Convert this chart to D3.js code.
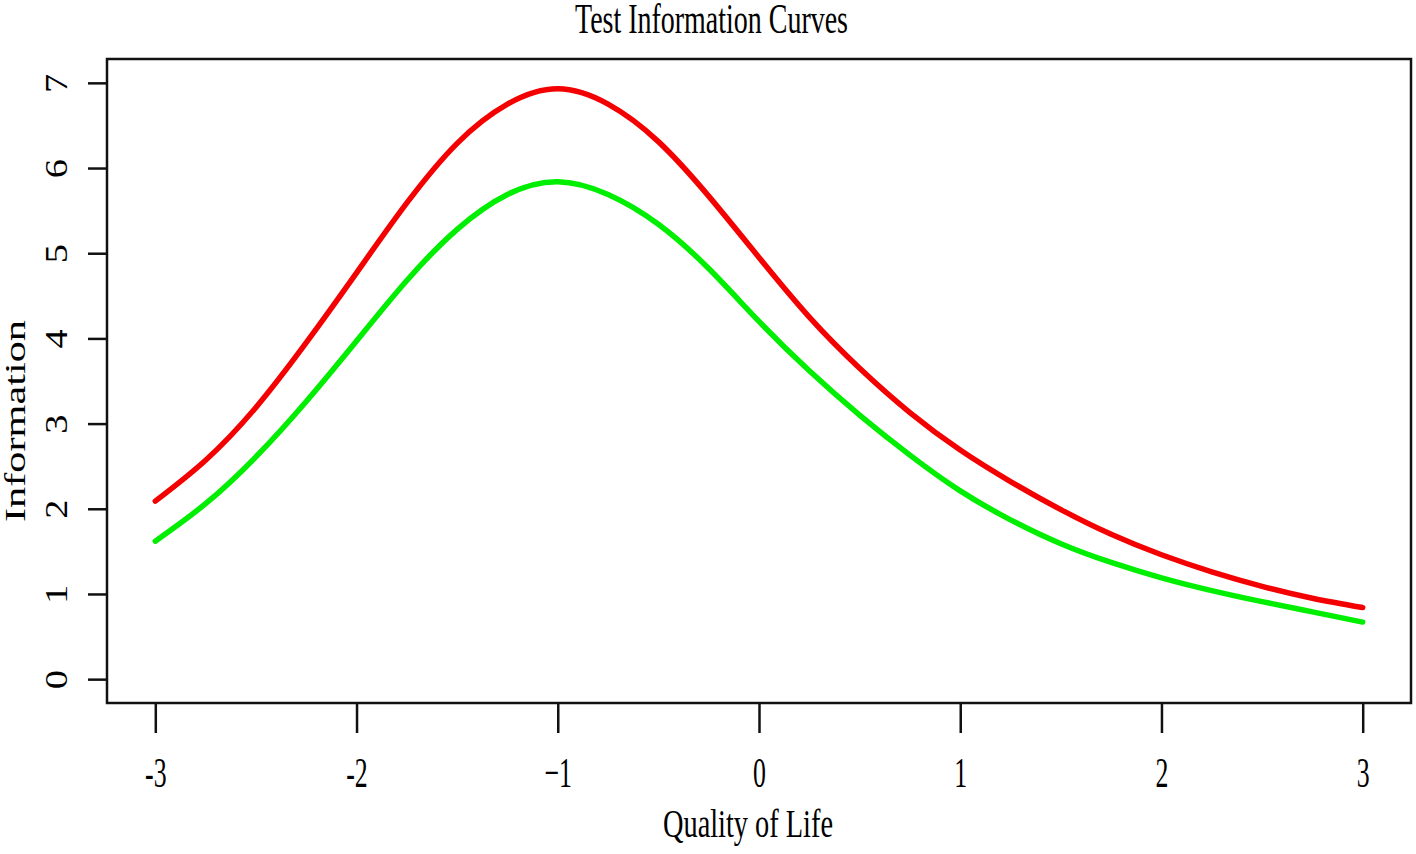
<!DOCTYPE html>
<html>
<head>
<meta charset="utf-8">
<script src="https://cdn.jsdelivr.net/npm/d3@7"></script>
<style>
  html, body { margin: 0; padding: 0; background: #fff; }
  text { font-family: "Liberation Serif", "Times New Roman", serif; fill: #000; }
</style>
</head>
<body>
<svg id="chart"></svg>
<script>
  "use strict";

  /***** Data *****/
  var theta = [-3, -2.75, -2.5, -2.25, -2, -1.75, -1.5, -1.25, -1, -0.75, -0.5, -0.25,
               0, 0.25, 0.5, 0.75, 1, 1.25, 1.5, 1.75, 2, 2.25, 2.5, 2.75, 3];
  var redInfo = [2.09, 2.57, 3.19, 3.95, 4.77, 5.59, 6.29, 6.75, 6.93, 6.75, 6.31, 5.67,
                 4.95, 4.25, 3.65, 3.13, 2.69, 2.32, 1.99, 1.70, 1.46, 1.26, 1.09, 0.95, 0.84];
  var greenInfo = [1.62, 2.06, 2.61, 3.26, 3.97, 4.68, 5.28, 5.69, 5.84, 5.69, 5.34, 4.82,
                   4.20, 3.62, 3.10, 2.63, 2.21, 1.87, 1.59, 1.37, 1.19, 1.04, 0.91, 0.79, 0.67];
  var xTicks = [-3, -2, -1, 0, 1, 2, 3];
  var xTickLabels = ["-3", "-2", "\u22121", "0", "1", "2", "3"];
  var yTicks = [0, 1, 2, 3, 4, 5, 6, 7];

  /***** Configuration *****/
  var W = 1416, H = 854;
  var box = {left: 107, right: 1411, top: 59, bottom: 703};

  var svg = d3.select("#chart").attr("width", W).attr("height", H);
  svg.append("rect").attr("width", W).attr("height", H).attr("fill", "#fff");

  /***** Scales (R style 4% padding) *****/
  var x = d3.scaleLinear().domain([-3.24, 3.24]).range([box.left, box.right]);
  var y = d3.scaleLinear().domain([-0.28, 7.28]).range([box.bottom, box.top]);

  /***** Curves *****/
  var line = d3.line()
    .x(function (d) { return x(d[0]); })
    .y(function (d) { return y(d[1]); })
    .curve(d3.curveNatural);

  svg.append("path")
    .datum(theta.map(function (t, i) { return [t, redInfo[i]]; }))
    .attr("d", line).attr("fill", "none")
    .attr("stroke", "#f40000").attr("stroke-width", 5.5).attr("stroke-linecap", "round");

  svg.append("path")
    .datum(theta.map(function (t, i) { return [t, greenInfo[i]]; }))
    .attr("d", line).attr("fill", "none")
    .attr("stroke", "#00ee00").attr("stroke-width", 5.5).attr("stroke-linecap", "round");

  /***** Frame *****/
  svg.append("rect")
    .attr("x", box.left).attr("y", box.top)
    .attr("width", box.right - box.left).attr("height", box.bottom - box.top)
    .attr("fill", "none").attr("stroke", "#111").attr("stroke-width", 2.5);

  /***** Axes *****/
  var xAxis = d3.axisBottom(x).tickValues(xTicks).tickSize(30)
    .tickFormat(function (d, i) { return xTickLabels[i]; });
  var xg = svg.append("g").attr("transform", "translate(0," + box.bottom + ")").call(xAxis);
  xg.select(".domain").remove();
  xg.selectAll(".tick line").attr("stroke", "#111").attr("stroke-width", 2.5);
  xg.selectAll(".tick text")
    .attr("y", 84).attr("dy", null)
    .attr("font-size", 43).attr("font-family", "Liberation Serif")
    .attr("transform", "scale(0.6,1)");

  var yAxis = d3.axisLeft(y).tickValues(yTicks).tickSize(19)
    .tickFormat(function (d) { return String(d); });
  var yg = svg.append("g").attr("transform", "translate(" + box.left + ",0)").call(yAxis);
  yg.select(".domain").remove();
  yg.selectAll(".tick line").attr("stroke", "#111").attr("stroke-width", 2.5);
  yg.selectAll(".tick text")
    .attr("x", 0).attr("y", 0).attr("dy", null)
    .attr("text-anchor", "middle")
    .attr("font-size", 32).attr("font-family", "Liberation Serif")
    .attr("transform", "translate(-40,0) rotate(-90) scale(1.2,1)");

  /***** Titles *****/
  svg.append("text")
    .attr("x", 575).attr("y", 33)
    .attr("font-size", 42)
    .attr("textLength", 273).attr("lengthAdjust", "spacingAndGlyphs")
    .text("Test Information Curves");

  svg.append("text")
    .attr("x", 663).attr("y", 837)
    .attr("font-size", 40)
    .attr("textLength", 170).attr("lengthAdjust", "spacingAndGlyphs")
    .text("Quality of Life");

  svg.append("text")
    .attr("transform", "translate(25,522) rotate(-90)")
    .attr("font-size", 30)
    .attr("textLength", 202).attr("lengthAdjust", "spacingAndGlyphs")
    .text("Information");
</script>
</body>
</html>
